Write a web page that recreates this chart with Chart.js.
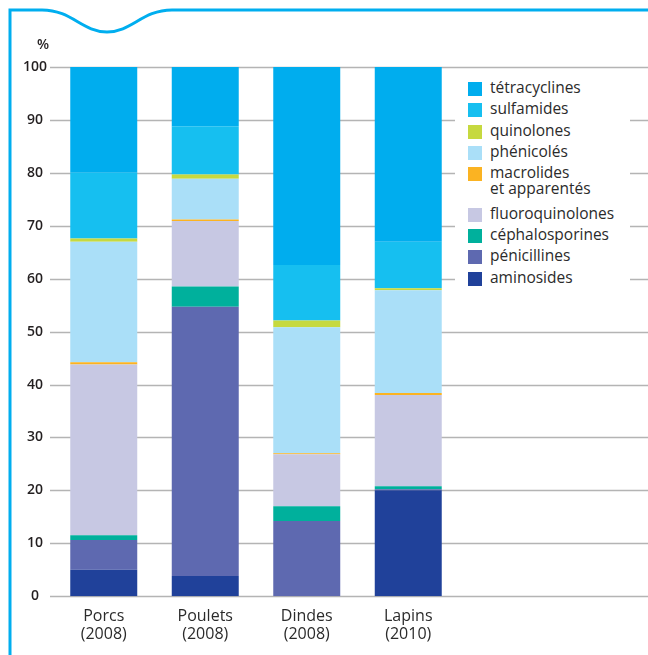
<!DOCTYPE html>
<html>
<head>
<meta charset="utf-8">
<script src="https://cdn.jsdelivr.net/npm/chart.js@4/dist/chart.umd.min.js"></script>
<style>
  html, body { margin: 0; padding: 0; background: #fff; }
  #wrap { position: relative; width: 648px; height: 655px; overflow: hidden; }
  #legend {
    position: absolute; left: 455px; top: 71px; width: 175px; height: 218px;
    background: #fff; font-family: "Open Sans", Lato, sans-serif; font-size: 15.5px; color: #2b2b2b;
  }
  #legend .item { position: absolute; left: 13px; }
  #legend .sw { position: absolute; left: 0; top: 2px; width: 14px; height: 14px; }
  #legend .tx { position: absolute; left: 22px; top: -1px; line-height: 16px; white-space: nowrap; }
</style>
</head>
<body>
<div id="wrap">
  <canvas id="chart" width="648" height="655"></canvas>
  <div id="legend"></div>
</div>
<script>
/* ================= DATA ================= */
const categories = [["Porcs", "(2008)"], ["Poulets", "(2008)"], ["Dindes", "(2008)"], ["Lapins", "(2010)"]];

// stacked from bottom to top, in %
const aminosides       = [5.0, 3.8, 0.0, 20.0];
const penicillines     = [5.6, 50.9, 14.2, 0.2];
const cephalosporines  = [0.9, 3.8, 2.8, 0.6];
const fluoroquinolones = [32.3, 12.4, 9.8, 17.2];
const macrolides       = [0.4, 0.3, 0.2, 0.4];
const phenicoles       = [22.8, 7.7, 23.8, 19.4];
const quinolones       = [0.6, 0.8, 1.3, 0.4];
const sulfamides       = [12.4, 9.1, 10.5, 8.8];
const tetracyclines    = [20.0, 11.2, 37.4, 33.0];

const yTicks = [0, 10, 20, 30, 40, 50, 60, 70, 80, 90, 100];

/* ================= SERIES ================= */
const series = [
  { label: "aminosides",                  data: aminosides,       color: "#20419a" },
  { label: "pénicillines",                data: penicillines,     color: "#5e69b0" },
  { label: "céphalosporines",             data: cephalosporines,  color: "#00b09c" },
  { label: "fluoroquinolones",            data: fluoroquinolones, color: "#c7c8e3" },
  { label: "macrolides\net apparentés",   data: macrolides,       color: "#fbb322" },
  { label: "phénicolés",                  data: phenicoles,       color: "#aadff8" },
  { label: "quinolones",                  data: quinolones,       color: "#c6d93f" },
  { label: "sulfamides",                  data: sulfamides,       color: "#16bff0" },
  { label: "tétracyclines",               data: tetracyclines,    color: "#00adee" }
];

/* =========================
   LEGEND (HTML, top = last stack)
========================= */
function buildLegend() {
  const box = document.getElementById("legend");
  const rows = [9, 30, 52, 73, 94, 135, 156, 177, 199];
  series.slice().reverse().forEach((s, i) => {
    const lines = s.label.split("\n");
    const div = document.createElement("div");
    div.className = "item";
    div.style.top = rows[i] + "px";
    div.innerHTML = `<div class="sw" style="background:${s.color}"></div>` +
      `<div class="tx">${lines.join("<br>")}</div>`;
    box.appendChild(div);
  });
}

/* =========================
   FRAME + GRID + "%"
========================= */
const framePlugin = {
  id: "frame",
  beforeDatasetsDraw(chart) {
    const ctx = chart.ctx;
    const y = chart.scales.y;
    ctx.save();
    // grid lines, running past the legend to the page edge
    ctx.strokeStyle = "#b4b4b4";
    ctx.lineWidth = 1.5;
    yTicks.forEach(v => {
      const py = Math.round(y.getPixelForValue(v)) + 0.5;
      ctx.beginPath();
      ctx.moveTo(50, py);
      ctx.lineTo(chart.width, py);
      ctx.stroke();
    });
    // blue frame with wave
    ctx.strokeStyle = "#00aeef";
    ctx.lineWidth = 3;
    ctx.beginPath();
    ctx.moveTo(10, chart.height + 5);
    ctx.lineTo(10, 10);
    ctx.lineTo(42, 10);
    ctx.bezierCurveTo(72, 10, 82, 32, 107, 32);
    ctx.bezierCurveTo(132, 32, 142, 10, 172, 10);
    ctx.lineTo(chart.width + 5, 10);
    ctx.stroke();
    // unit
    ctx.fillStyle = "#231f20";
    ctx.font = "600 14px 'Open Sans', Lato, sans-serif";
    ctx.textAlign = "center";
    ctx.textBaseline = "middle";
    ctx.fillText("%", 43, 45);
    ctx.restore();
  }
};

/* =========================
   DRAW
========================= */
buildLegend();

new Chart(document.getElementById("chart").getContext("2d"), {
  type: "bar",
  data: {
    labels: categories,
    datasets: series.map(s => ({
      label: s.label,
      data: s.data,
      backgroundColor: s.color,
      borderWidth: 0,
      barPercentage: 0.66,
      categoryPercentage: 1
    }))
  },
  options: {
    responsive: false,
    animation: false,
    layout: { padding: { top: 67, right: 189, bottom: 0, left: 0 } },
    plugins: {
      legend: { display: false },
      tooltip: { enabled: false }
    },
    scales: {
      x: {
        stacked: true,
        grid: { display: false, drawTicks: false },
        border: { display: false },
        ticks: {
          padding: 11,
          color: "#2b2b2b",
          font: { family: "'Open Sans', Lato, sans-serif", size: 16, lineHeight: 1.15 }
        }
      },
      y: {
        stacked: true,
        min: 0,
        max: 100,
        afterFit: s => { s.width = 53; },
        afterBuildTicks: s => { s.ticks = yTicks.map(v => ({ value: v })); },
        grid: { display: false, drawTicks: false },
        border: { display: false },
        ticks: {
          crossAlign: "center",
          padding: 6,
          color: "#231f20",
          font: { family: "'Open Sans', Lato, sans-serif", size: 14, weight: "600" }
        }
      }
    }
  },
  plugins: [framePlugin]
});
</script>
</body>
</html>
